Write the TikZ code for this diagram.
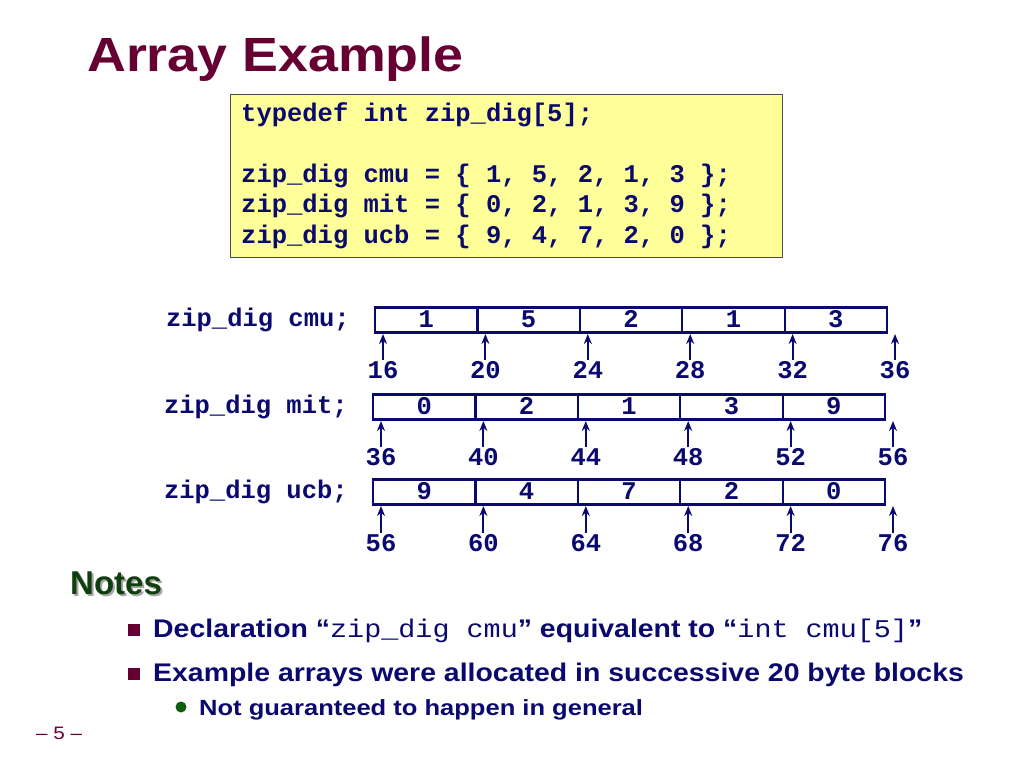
\documentclass[tikz,border=0pt]{standalone}
\usepackage{fontspec}
\setmainfont{Liberation Sans}
\setmonofont{Liberation Mono}
\usetikzlibrary{arrows.meta,positioning}
\definecolor{titlered}{HTML}{660033}
\definecolor{codeblue}{HTML}{0A0A6E}
\definecolor{codeyellow}{HTML}{FFFF99}
\definecolor{notegreen}{HTML}{0F3F0F}
\definecolor{dotgreen}{HTML}{0B5E0B}

\tikzset{
  cell/.style={draw=codeblue, line width=2.2pt, minimum width=102.4pt, minimum height=25pt, inner sep=0pt,
    text height=15pt, text depth=0pt, text=codeblue, font=\fontsize{25.5}{25.5}\selectfont\ttfamily\bfseries},
  arrlabel/.style={inner sep=0pt, text=codeblue, font=\fontsize{25.5}{25.5}\selectfont\ttfamily\bfseries},
  addr/.style={inner sep=0pt, text height=15pt, text depth=0pt, text=codeblue, font=\fontsize{25.5}{25.5}\selectfont\ttfamily\bfseries},
  ptr/.style={-{Stealth[length=10pt,width=8pt]}, draw=codeblue, line width=2pt},
  notetext/.style={anchor=base west, inner sep=0pt, text=codeblue, font=\fontsize{25.5}{25.5}\selectfont\bfseries}
}

\begin{document}
\begin{tikzpicture}[line cap=rect,line join=miter,x=1pt,y=-1pt]
  \useasboundingbox (0,0) rectangle (1024,768);
  % title
  \node[anchor=base west, inner sep=0pt, text=titlered, font=\fontsize{48}{48}\selectfont\bfseries] (title) at (87,71) {\scalebox{1.12}[1]{Array Example}};
  % code box
  \node[draw=black!70, line width=0.8pt, fill=codeyellow, anchor=north west, minimum width=552pt, minimum height=163pt, inner sep=0pt] (code) at (230,94) {};
  \node[anchor=base west, inner sep=0pt, align=left, text=codeblue, font=\fontsize{25.5}{30.5}\selectfont\ttfamily\bfseries] (codetext) at (241,243)
    {typedef int zip\_dig[5];\\ \\ zip\_dig cmu = \{ 1, 5, 2, 1, 3 \};\\ zip\_dig mit = \{ 0, 2, 1, 3, 9 \};\\ zip\_dig ucb = \{ 9, 4, 7, 2, 0 \};};
  % arrays
  \foreach \name/\xs/\yc/\ya/\vals/\base in {cmu/375/320/371/{1,5,2,1,3}/16, mit/373/407/458/{0,2,1,3,9}/36, ucb/373/492/544/{9,4,7,2,0}/56}{
    \foreach \v [count=\i] in \vals
      \node[cell] (\name\i) at ({\xs+102.4*(\i-0.5)},\yc) {\v};
    \node[arrlabel, left=24pt of \name1] (\name lbl) {zip\_dig \name;};
    \foreach \i in {0,...,5}{
      \pgfmathtruncatemacro{\adr}{\base+4*\i}
      \node[addr] (\name a\i) at ({\xs+8+102.4*\i},\ya) {\adr};
      \coordinate (\name t\i) at ({\xs+8+102.4*\i},\yc+14);
      \draw[ptr] ([yshift=4.5pt]\name a\i.north) -- (\name t\i);
    }
  }
  % notes
  \node[anchor=base west, inner sep=0pt, text=black!35, font=\fontsize{33}{33}\selectfont\bfseries] at (72,596) {Notes};
  \node[anchor=base west, inner sep=0pt, text=notegreen, font=\fontsize{33}{33}\selectfont\bfseries] (notes) at (70,594) {Notes};
  \node[fill=titlered, minimum size=12pt, inner sep=0pt] (sq1) at (134,630) {};
  \node[notetext] (note1) at (153,637)
    {\scalebox{1.115}[1]{Declaration “{\mdseries\ttfamily zip\_dig cmu}” equivalent to “{\mdseries\ttfamily int cmu[5]}”}};
  \node[fill=titlered, minimum size=12pt, inner sep=0pt] (sq2) at (134,674) {};
  \node[notetext] (note2) at (153,681)
    {\scalebox{1.115}[1]{Example arrays were allocated in successive 20 byte blocks}};
  \node[circle, fill=dotgreen, minimum size=11pt, inner sep=0pt] (dot1) at (181,707) {};
  \node[notetext, font=\fontsize{22}{22}\selectfont\bfseries] (note3) at (199,715)
    {\scalebox{1.16}[1]{Not guaranteed to happen in general}};
  % page number
  \node[anchor=base west, inner sep=0pt, text=titlered, font=\fontsize{18}{18}\selectfont] (page) at (36,739) {\scalebox{1.15}[1]{– 5 –}};
\end{tikzpicture}
\end{document}
